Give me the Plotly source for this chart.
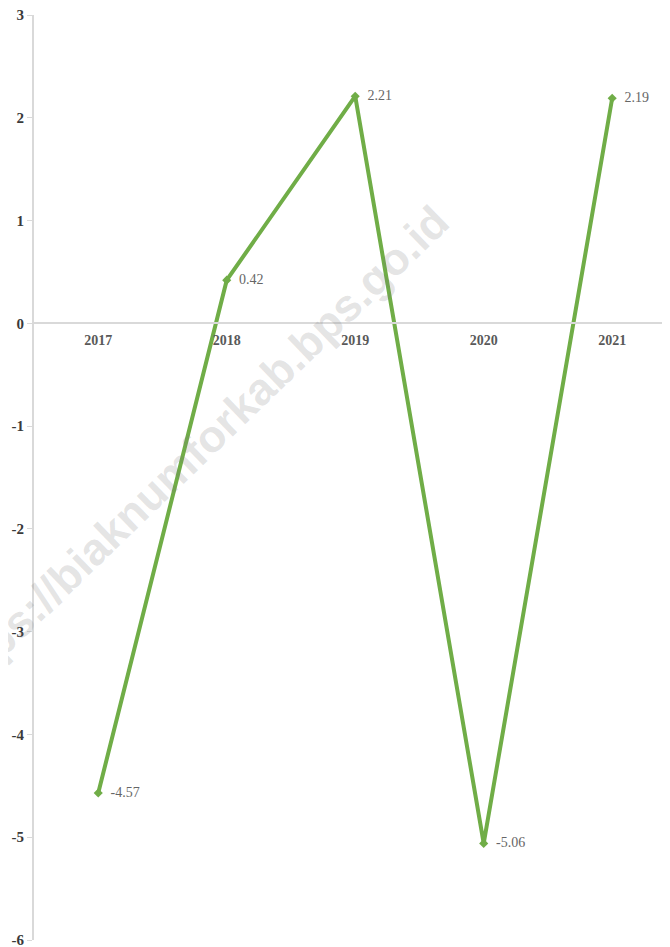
import plotly.graph_objects as go

years = ["2017", "2018", "2019", "2020", "2021"]
growth = [-4.57, 0.42, 2.21, -5.06, 2.19]
labels = ["-4.57", "0.42", "2.21", "-5.06", "2.19"]
y_ticks = [3, 2, 1, 0, -1, -2, -3, -4, -5, -6]
y_tick_text = ["3", "2", "1", "0", "-1", "-2", "-3", "-4", "-5", "-6"]

GREEN = "#70AD47"
AXIS = "#d9d9d9"

fig = go.Figure()
fig.add_trace(go.Scatter(
    x=years, y=growth, mode="lines+markers+text",
    line=dict(color=GREEN, width=4),
    marker=dict(symbol="diamond", size=7, color=GREEN),
    text=["  " + t for t in labels], textposition="middle right",
    textfont=dict(family="Liberation Serif", size=14, color="#666666"),
    cliponaxis=False, showlegend=False,
))

# watermark
fig.add_annotation(
    text="https://biaknumforkab.bps.go.id", xref="paper", yref="paper",
    x=0.253, y=0.528, xanchor="center", yanchor="middle",
    showarrow=False, textangle=-44,
    font=dict(family="Liberation Sans", size=45, color="rgba(120,120,120,0.2)", weight="bold"),
)

# page body adds an 8px offset, so the figure is 8px smaller than the window
fig.update_layout(
    width=662, height=939,
    margin=dict(l=26, r=0, t=7, b=7),
    plot_bgcolor="white", paper_bgcolor="white",
    xaxis=dict(
        type="category", range=[-0.5, 4.45],
        anchor="free", position=6 / 9,
        showline=True, linecolor=AXIS, linewidth=2,
        showgrid=False, ticks="", automargin=False,
        ticklabelstandoff=4,
        tickfont=dict(family="Liberation Serif", size=14, color="#595959", weight="bold"),
    ),
    yaxis=dict(
        range=[-6, 3], tickvals=y_ticks, ticktext=y_tick_text,
        showline=True, linecolor=AXIS, linewidth=2,
        showgrid=False, zeroline=False, automargin=False,
        ticklabeloverflow="allow",
        ticks="outside", ticklen=5, tickcolor=AXIS, tickwidth=1,
        tickfont=dict(family="Liberation Serif", size=15, color="#3a3a3a", weight="bold"),
    ),
)

fig.write_html("out.html")
